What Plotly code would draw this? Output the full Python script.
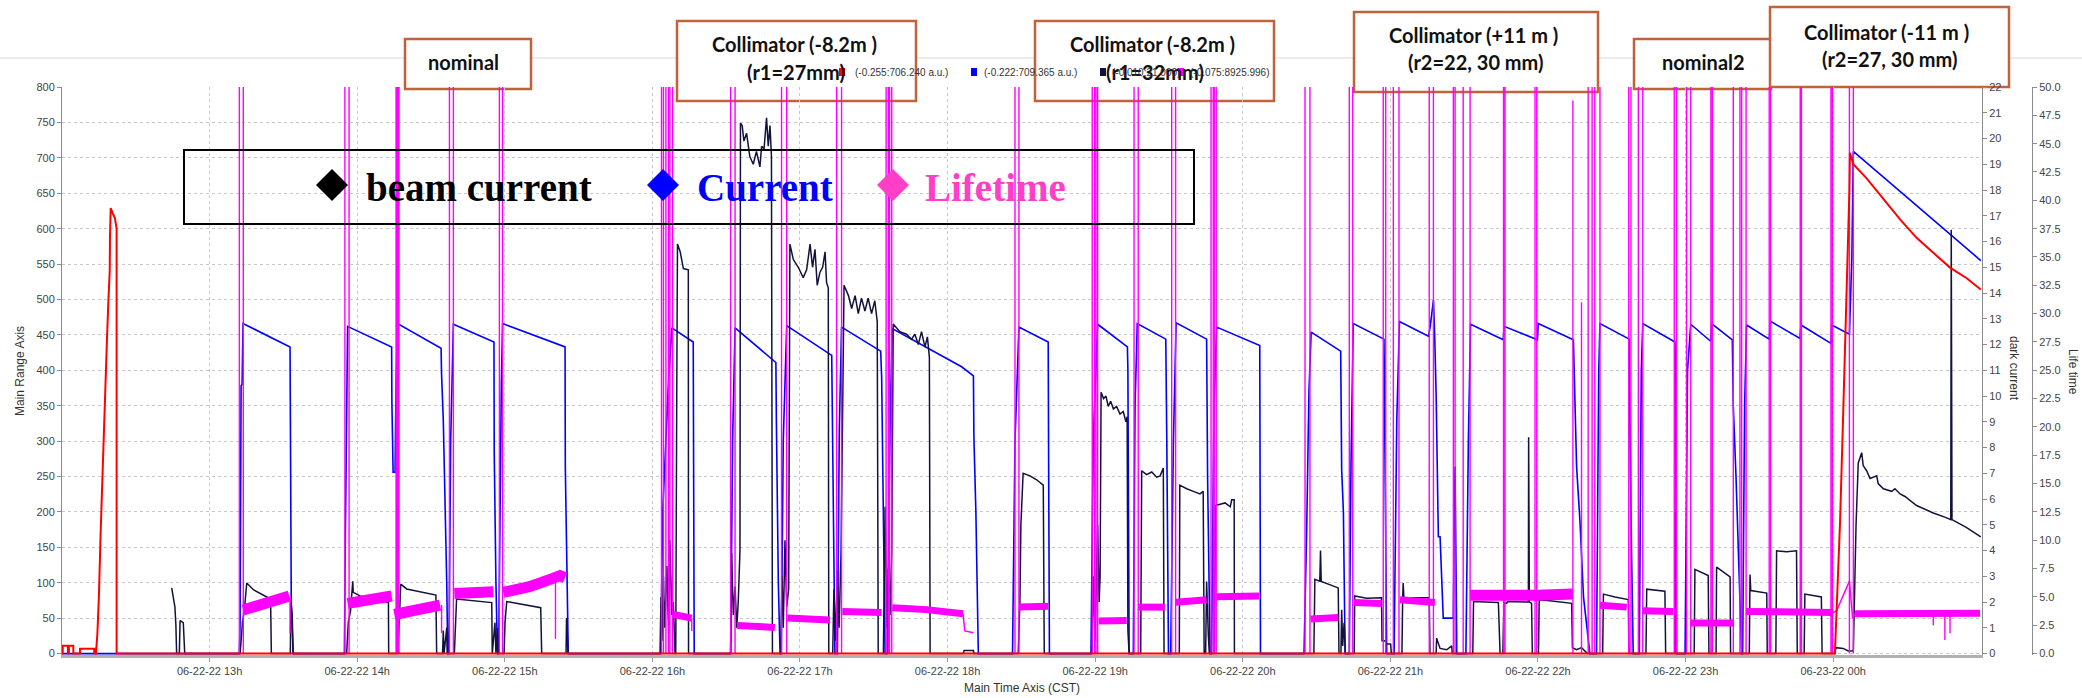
import plotly.graph_objects as go
import pandas as pd

# ---------------- DATA (time = minutes after 06-22-22 12:00 CST) ----------------
BASE = pd.Timestamp("2022-06-22 12:00:00")
X_END_MIN = 780.5

# red trace (Main Range Axis, a.u.)
red_t = [0, 0.3, 0.3, 2.4, 2.4, 2.8, 2.8, 4.6, 4.6, 7.3, 7.3, 13.1, 13.1, 13.8, 14.4, 15.0, 15.7,
         16.4, 16.8, 17.2, 17.6, 18.3, 18.8, 19.4, 19.5, 19.8, 20.6, 21.5, 22.2, 22.2,
         720.7, 722.1, 722.8, 724.1, 725.5, 726.6, 726.8, 728.2, 733.6, 740.4, 747.2, 753.9,
         760.7, 767.5, 774.3, 780.0]
red_v = [0, 0, 11, 11, 0, 0, 11, 11, 0, 0, 7, 7, 0, 0, 29, 81, 170,
         248, 300, 352, 400, 446, 493, 540, 587, 629, 622, 615, 600, 0,
         0, 110, 186, 342, 499, 655, 707, 691, 671, 642, 613, 587,
         566, 545, 530, 514]

# blue "Current" (Main Range Axis)
blue_t = [0, 72.1, 72.4, 72.8, 73.2, 73.6, 92.7, 92.8, 93.2, 94.0,
          114.8, 115.2, 115.7, 116.1, 134.0, 134.1, 134.6, 135.4, 135.8, 136.4,
          154.1, 154.3, 155.0, 155.8, 156.4, 156.8,
          157.3, 158.0, 159.1, 175.6, 175.7, 176.4, 177.0,
          177.5, 178.1, 178.6, 179.1, 204.5, 204.6, 205.1, 205.8,
          243.4, 244.2, 246.5, 247.9, 256.6, 256.8, 257.0,
          271.8, 272.6, 273.6, 290.2, 290.4, 291.2, 291.9,
          292.4, 293.2, 294.6, 312.9, 313.3, 314.2,
          315.2, 316.0, 316.9, 332.8, 333.2, 333.9, 334.6,
          335.5, 336.6, 337.5, 365.7, 370.5, 370.7, 371.5, 372.5,
          386.4, 387.4, 389.0, 400.9, 401.1, 401.4,
          418.3, 419.2, 421.0, 433.1, 433.3, 433.8,
          435.5, 436.2, 437.1, 448.7, 449.1, 449.8,
          450.7, 451.8, 452.9, 465.3, 465.7, 466.7,
          467.3, 468.3, 469.4, 486.9, 487.2,
          504.9, 506.0, 506.9, 507.8, 519.8, 520.2, 520.9, 521.6,
          523.3, 524.0, 524.9, 537.4, 537.8, 538.5,
          541.5, 542.6, 543.7, 555.5, 556.2, 557.5, 558.0, 558.6, 559.5, 560.2, 561.5, 565.6,
          566.0, 566.3, 567.0,
          570.7, 571.7, 572.6, 585.9, 586.2, 599.8, 600.1,
          614.4, 614.7, 615.7, 617.1, 618.5, 621.1, 623.8, 624.7, 625.2,
          637.1, 637.3, 638.0, 638.7,
          641.2, 642.0, 642.6, 655.7, 655.9, 656.4,
          659.8, 660.8, 662.1, 670.2, 670.6, 679.0, 679.4, 680.5, 682.8,
          683.2, 684.0, 684.8, 694.0, 694.6, 706.5, 706.9, 719.1, 719.4, 726.6, 727.1, 727.6,
          728.2, 780.0]
blue_v = [0, 0, 45, 378, 380, 466, 433, 285, 70, 0,
          0, 170, 370, 462, 433, 356, 256, 256, 380, 466,
          431, 394, 330, 220, 100, 0,
          0, 300, 465, 440, 285, 100, 0,
          0, 250, 380, 466, 433, 264, 130, 0,
          0, 200, 380, 460, 440, 269, 0,
          0, 300, 460, 411, 330, 100, 0,
          0, 300, 463, 421, 300, 0,
          0, 320, 461, 427, 390, 200, 0,
          0, 320, 459, 405, 392, 305, 200, 0,
          0, 300, 461, 440, 250, 0,
          0, 300, 465, 433, 400, 0,
          0, 350, 466, 444, 305, 0,
          0, 300, 467, 444, 250, 0,
          0, 350, 461, 435, 0,
          0, 180, 370, 454, 427, 260, 200, 0,
          0, 270, 466, 444, 300, 0,
          0, 330, 469, 448, 462, 499, 450, 366, 165, 165, 50, 50,
          200, 264, 0,
          0, 300, 465, 443, 462, 443, 466,
          443, 390, 264, 185, 80, 0, 0, 400, 466,
          444, 340, 150, 0,
          0, 400, 466, 440, 400, 0,
          0, 400, 465, 441, 466, 443, 350, 250, 0,
          0, 350, 464, 444, 469, 445, 464, 438, 464, 451, 500, 560,
          709, 555]

# navy "beam current" (dark current axis)
beam_t = [44.6, 45.9, 46.3, 46.6, 47.7, 48.0, 49.3, 49.9,
          72.4, 73.4, 74.1, 75.1, 77.8, 84.8, 85.1,
          92.8, 93.1, 93.6, 93.9,
          115.7, 116.4, 117.3, 118.2, 118.4, 121.1, 132.7, 132.8,
          136.4, 137.1, 137.7, 140.1, 152.0, 152.3,
          154.7, 155.0, 155.3, 156.4, 156.6,
          159.5, 159.9, 160.4, 174.7, 174.9,
          176.0, 176.4, 177.0, 177.2,
          179.7, 180.1, 180.8, 194.6, 195.0,
          204.9, 205.1, 205.7,
          243.1, 243.5, 243.9, 244.5, 245.0, 245.9, 246.6, 247.1, 247.9, 248.5, 249.2,
          249.5, 249.9, 250.2, 251.3, 252.6, 254.6, 254.7,
          271.8, 272.2, 272.9, 273.6, 274.3, 274.9, 275.6, 275.7, 275.8, 276.5, 277.2, 278.3,
          279.6, 281.0, 282.3, 283.7, 284.4, 285.4, 286.4, 287.1, 287.8, 288.4, 288.8,
          292.2, 292.7, 293.2, 293.9, 294.6, 295.4, 295.9, 297.3, 299.3, 301.3, 302.7, 304.1,
          305.1, 306.1, 307.0, 308.1, 309.2, 310.2, 310.8, 311.5, 311.7,
          313.3, 313.8, 314.4, 315.2, 315.9, 316.7, 317.9, 319.7, 321.0, 322.4, 323.7, 325.0,
          326.4, 327.7, 329.1, 330.4, 331.4, 331.8,
          333.9, 334.6, 335.3, 335.9, 336.6, 337.3, 337.9, 340.6, 343.3, 345.3, 346.7, 348.1,
          349.4, 350.8, 351.8, 352.6, 352.9,
          366.4, 366.7, 370.5, 370.7,
          388.7, 389.4, 389.8, 390.7, 393.5, 396.2, 398.9, 399.0, 399.3,
          418.6, 419.2, 419.9, 421.0, 421.6, 422.0, 422.4, 423.4, 424.4, 425.3, 426.3, 427.4,
          428.7, 430.1, 431.4, 432.5, 433.0, 433.3, 433.8,
          438.5, 438.9, 440.9, 443.0, 445.0, 446.4, 447.7, 448.0,
          454.2, 454.4, 457.2, 459.9, 462.6, 463.9, 464.3,
          464.9, 465.3, 466.0, 466.4,
          468.5, 468.8, 470.8, 472.8, 474.9, 475.5, 476.5, 476.6,
          508.9, 509.3, 511.3, 511.6, 511.9, 518.8, 519.1,
          519.9, 520.2, 520.6, 521.2, 521.7,
          525.3, 525.5, 530.3, 536.4, 536.6, 537.7, 538.5, 540.1, 540.4,
          544.7, 545.0, 545.2, 545.5, 555.8, 556.1,
          558.6, 558.8, 560.2, 562.9, 564.9, 565.2,
          573.5, 573.8, 583.9, 584.6,
          585.7, 586.2, 587.3, 587.6, 596.1, 596.2, 596.5, 597.4, 597.7,
          600.2, 600.5, 604.8, 613.7, 614.0, 615.7, 617.7, 619.1, 620.1,
          626.3, 626.6, 631.3, 636.7, 637.0,
          643.9, 644.2, 651.6, 651.9,
          655.6, 655.8, 656.2,
          663.5, 663.8, 669.2, 669.5,
          672.4, 672.6, 678.1, 678.3,
          685.9, 686.2, 686.5, 693.0, 693.2,
          696.7, 697.0, 701.1, 705.1, 705.4,
          708.2, 708.5, 715.2, 715.5,
          720.7, 721.1, 724.1, 726.1, 728.2, 728.6, 729.3, 730.2, 731.6, 732.2, 733.6, 735.0,
          737.7, 738.3, 740.4, 743.8, 745.1, 747.2, 749.2, 753.9, 760.7, 765.4, 767.8, 768.0,
          768.3, 774.1, 780.0]
beam_v = [2.55, 1.81, 1.09, 0, 0, 1.28, 1.2, 0,
          0, 1.23, 1.66, 2.74, 2.48, 2.12, 0,
          0, 2.0, 1.5, 0,
          0, 1.23, 1.66, 2.81, 2.38, 2.24, 1.98, 0,
          0, 1.23, 2.70, 2.51, 2.27, 0,
          0, 0.9, 0, 1.0, 0,
          0, 1.23, 2.12, 1.98, 0,
          1.2, 0, 1.0, 0,
          0, 1.23, 2.02, 1.78, 0,
          0, 1.38, 0,
          0, 2.2, 0.5, 3.0, 1.0, 3.4, 0.8, 4.4, 1.5, 2.0, 0,
          0, 9.98, 15.9, 15.6, 14.95, 14.9, 0,
          0, 3.9, 1.5, 2.6, 1.0, 2.0, 4.0, 12.0, 20.6, 20.5, 19.9, 20.2,
          19.3, 19.0, 19.5, 18.9, 19.7, 19.6, 20.8, 19.7, 20.5, 19.3, 0,
          0, 3.0, 1.0, 4.4, 1.8, 2.5, 15.9, 15.3, 15.0, 14.6, 14.9, 15.9,
          15.0, 15.7, 14.3, 14.8, 15.0, 15.6, 14.4, 14.2, 0,
          0, 2.5, 0.5, 3.2, 1.0, 4.0, 14.3, 13.9, 13.4, 13.9, 13.2, 13.8,
          13.3, 13.8, 13.2, 13.7, 12.9, 0,
          0, 5.7, 1.0, 3.3, 1.5, 4.0, 12.8, 12.5, 12.4, 12.2, 12.4, 12.0,
          12.5, 11.9, 12.3, 11.5, 0,
          0, 0.12, 0.12, 0,
          0, 2.0, 5.0, 7.0, 6.9, 6.75, 6.54, 2.5, 0,
          0, 3.0, 0.5, 5.0, 2.0, 3.0, 10.15, 9.9, 10.0, 9.6, 9.8, 9.5,
          9.6, 9.3, 9.4, 9.0, 9.2, 0.9, 0,
          0, 7.1, 6.95, 7.05, 6.85, 6.9, 7.2, 0,
          0, 6.54, 6.4, 6.3, 6.2, 6.3, 0,
          0, 2.8, 0.7, 0,
          0, 5.75, 5.8, 5.85, 5.7, 5.97, 5.97, 0,
          0, 2.88, 2.81, 4.0, 2.8, 2.55, 0,
          0, 1.7, 0.3, 1.2, 0,
          0, 2.24, 2.15, 2.17, 0.5, 0.5, 0.37, 0.37, 0,
          0, 2.17, 2.74, 2.17, 2.17, 0,
          0, 0.6, 0.2, 0.15, 0.3, 0,
          0, 2.02, 1.98, 0,
          0, 1.95, 1.95, 2.02, 2.0, 8.4, 2.0, 1.95, 0,
          0, 2.09, 2.05, 1.95, 0.23, 0.15, 0.23, 0.1, 0,
          0, 2.31, 2.2, 2.1, 0,
          0, 2.5, 2.42, 0,
          0, 5.5, 0,
          0, 3.27, 3.03, 0,
          0, 3.36, 2.98, 0,
          0, 3.07, 2.45, 2.35, 0,
          0, 3.99, 3.95, 3.99, 0,
          0, 2.31, 2.2, 0,
          0, 0.23, 0.2, 0.1, 0.1, 2.0, 5.0, 7.4, 7.8, 7.3, 7.1, 6.8,
          6.9, 6.6, 6.4, 6.3, 6.4, 6.2, 6.1, 5.75, 5.46, 5.3, 5.2, 16.46,
          5.2, 4.9, 4.53]

# magenta "Lifetime" (Life time axis): noisy plateaus
life_noisy_t = [73.7, 80.5, 86.6, 92.4, None,
                116.1, 125.0, 134.0, None,
                135.1, 153.7, None,
                159.5, 175.3, None,
                179.4, 190.0, 198.4, 202.4, 204.5, None,
                572.4, 584.6, 599.5, 614.1]
life_noisy_v = [3.85, 4.27, 4.6, 5.08, None,
                4.43, 4.7, 5.08, None,
                3.45, 4.27, None,
                5.3, 5.45, None,
                5.41, 5.9, 6.55, 6.88, 6.7, None,
                5.15, 5.25, 5.15, 5.25]
life_t = [248.5, 256.0, None, 274.5, 289.8, None, 294.9, 312.2, None, 317.2, 333.2, None,
          337.5, 351.4, 366.3, None, 389.0, 400.9, None, 421.4, 432.8, None,
          437.5, 448.4, None, 452.8, 465.3, None, 469.4, 486.7, None, 507.6, 518.8, None,
          525.2, 536.4, None, 543.9, 558.1, None, 625.2, 636.1, None, 642.6, 655.0, None,
          662.1, 679.4, None, 684.6, 720.0, None, 728.9, 779.7]
life_v = [3.45, 3.13, None, 2.48, 2.31, None, 3.13, 2.97, None, 3.72, 3.62, None,
          4.04, 3.88, 3.52, None, 4.1, 4.17, None, 2.87, 2.93, None,
          4.1, 4.1, None, 4.53, 4.76, None, 5.02, 5.08, None, 3.06, 3.19, None,
          4.5, 4.43, None, 4.76, 4.5, None, 4.27, 4.1, None, 3.78, 3.72, None,
          2.7, 2.7, None, 3.72, 3.62, None, 3.52, 3.55]
# thin magenta excursions: ramp before 00h and short drops
life_thin_t = [366.3, 367.0, 370.5, None, 720.0, 721.4, 726.6, 727.9, 728.9]
life_thin_v = [3.52, 2.0, 1.83, None, 3.62, 3.78, 6.39, 3.13, 3.52]
life_dip_t = [92.7, 154.3, 200.6, 256.0, 760.7, 765.4, 767.5]
life_dip_low = [1.8, 1.8, 1.3, 2.0, 2.5, 1.2, 1.8]
life_dip_top = [5.0, 4.3, 6.7, 3.1, 3.6, 3.6, 3.6]
# off-scale lifetime spikes (value jumps to the recorded max, then back)
LIFE_MAX = 8925.996
life_spike_up = [72.1, 115.0, 135.8, 136.5, 157.5, 177.8, 243.7, 245.5, 247.1, 271.8, 292.5,
                 314.9, 335.0, 336.4, 387.4, 418.8, 420.3, 435.8, 451.1, 467.1, 468.4, 505.3,
                 523.3, 537.1, 541.2, 555.8, 565.6, 569.6, 586.0, 598.8, 620.4, 623.1, 636.9,
                 640.8, 655.4, 660.4, 670.3, 679.4, 682.8, 694.0, 706.6, 719.1, 726.6]
life_spike_down = [73.7, 116.7, 136.3, 137.0, 159.1, 179.1, 244.5, 246.6, 248.2, 273.6, 294.6,
                   316.9, 335.9, 337.3, 389.0, 419.8, 421.0, 437.5, 452.7, 468.0, 469.2, 507.3,
                   524.7, 538.1, 543.5, 557.5, 566.3, 572.4, 586.6, 599.5, 622.0, 625.2, 637.8,
                   642.6, 656.3, 662.1, 670.9, 682.1, 684.6, 694.6, 707.1, 719.7, 728.2]
life_partial_t = [614.2, 617.7]
life_partial_v = [48.8, 31.0]

# x tick positions (hours after 06-22-22 12:00)
hour_ticks = [1, 2, 3, 4, 5, 6, 7, 8, 9, 10, 11, 12]

box_texts = [["nominal"], ["Collimator (-8.2m )", "(r1=27mm)"], ["Collimator (-8.2m )", "(r1=32mm)"],
             ["Collimator (+11 m )", "(r2=22, 30 mm)"], ["nominal2"], ["Collimator (-11 m )", "(r2=27, 30 mm)"]]
legend_items = ["beam current", "Current", "Lifetime"]
range_labels = ["(-0.255:706.240 a.u.)", "(-0.222:709.365 a.u.)", "(-0.010:21.000)", "(-0.075:8925.996)"]

# ---------------- helpers ----------------
def tt(ts):
    return [None if t is None else BASE + pd.Timedelta(minutes=t) for t in ts]

W, H = 2082, 698
ML, MT, MB = 62, 87, 43
PW, PH = W - ML, H - MT - MB
PLOT_R = 1982

def px(x):
    return (x - ML) / PW

def py(y):
    return (H - MB - y) / PH

spike_x, spike_y = [], []
for a, b in zip(life_spike_up, life_spike_down):
    spike_x += [a, a, b, b, None]
    spike_y += [0, LIFE_MAX, LIFE_MAX, 0, None]
for t, v in zip(life_partial_t, life_partial_v):
    spike_x += [t, t, None]
    spike_y += [0, v, None]
for t, lo, hi in zip(life_dip_t, life_dip_low, life_dip_top):
    spike_x += [t, t, None]
    spike_y += [hi, lo, None]

MAG = "#FF00FF"
fig = go.Figure()
fig.add_trace(go.Scatter(x=tt(blue_t), y=blue_v, mode="lines", yaxis="y",
                         line=dict(color="#0000FF", width=1.6), name="Current"))
fig.add_trace(go.Scatter(x=tt(beam_t), y=beam_v, mode="lines", yaxis="y2",
                         line=dict(color="#12123E", width=1.5), name="beam current"))
fig.add_trace(go.Scatter(x=tt(life_noisy_t), y=life_noisy_v, mode="lines", yaxis="y3",
                         line=dict(color=MAG, width=11), name="Lifetime", connectgaps=False))
fig.add_trace(go.Scatter(x=tt(life_t), y=life_v, mode="lines", yaxis="y3",
                         line=dict(color=MAG, width=7), name="Lifetime", connectgaps=False))
fig.add_trace(go.Scatter(x=tt(life_thin_t), y=life_thin_v, mode="lines", yaxis="y3",
                         line=dict(color=MAG, width=1.5), name="Lifetime", connectgaps=False))
fig.add_trace(go.Scatter(x=tt(spike_x), y=spike_y, mode="lines", yaxis="y3",
                         line=dict(color=MAG, width=1.4), name="Lifetime", connectgaps=False))
fig.add_trace(go.Scatter(x=tt(red_t), y=red_v, mode="lines", yaxis="y4",
                         line=dict(color="#FF0000", width=2), name="red"))

tickfont = dict(family="Liberation Sans, Arial, sans-serif", size=11, color="#444")
axcol = "#8c8c8c"
tickvals = [BASE + pd.Timedelta(hours=h) for h in hour_ticks]
ticktext = [v.strftime("%m-%d-%y %Hh") for v in tickvals]
fig.update_layout(
    width=W, height=H, showlegend=False,
    margin=dict(l=ML, r=0, t=MT, b=MB, pad=0, autoexpand=False),
    paper_bgcolor="white", plot_bgcolor="rgba(0,0,0,0)",
    xaxis=dict(type="date", domain=[0, (PLOT_R - ML) / PW], automargin=False,
               range=[BASE, BASE + pd.Timedelta(minutes=X_END_MIN)],
               tickvals=tickvals, ticktext=ticktext,
               showgrid=True, gridcolor="#c8c8c8", griddash="dot", gridwidth=1,
               showline=True, linecolor="#b0b0b0", linewidth=3,
               ticks="outside", ticklen=4, tickcolor="#999", tickfont=tickfont, zeroline=False),
    yaxis=dict(range=[-2, 800], dtick=50, showgrid=True, gridcolor="#c8c8c8", griddash="dot",
               showline=True, linecolor=axcol, linewidth=1, ticks="outside", ticklen=4,
               tickcolor=axcol, tickfont=tickfont, zeroline=False, automargin=False),
    yaxis2=dict(overlaying="y", side="right", anchor="x", range=[-0.055, 22], dtick=1,
                showgrid=False, showline=True, linecolor=axcol, ticks="outside", ticklen=4,
                tickcolor=axcol, tickfont=tickfont, zeroline=False, automargin=False),
    yaxis3=dict(overlaying="y", side="right", anchor="free", position=px(2032),
                range=[-0.125, 50], dtick=2.5, tickformat=".1f", showgrid=False,
                showline=True, linecolor=axcol, ticks="outside", ticklen=4, tickcolor=axcol,
                tickfont=tickfont, zeroline=False, automargin=False),
    yaxis4=dict(overlaying="y", range=[-2, 800], visible=False, automargin=False),
)

shapes = []
# faint header rule
shapes.append(dict(type="line", xref="paper", yref="paper", x0=px(0), x1=px(W), y0=py(58), y1=py(58),
                   line=dict(color="#e4e4e4", width=1.5), layer="below"))
BOXC = "#C0623A"
boxes = [(405, 531, 39, 89), (677, 916, 21, 101), (1035, 1274, 21, 101),
         (1354, 1598, 12, 92), (1634, 1771, 39, 89), (1770, 2009, 7, 87)]
for (x0, x1, y0, y1) in boxes:
    shapes.append(dict(type="rect", xref="paper", yref="paper", x0=px(x0), x1=px(x1),
                       y0=py(y1), y1=py(y0), fillcolor="white",
                       line=dict(color=BOXC, width=2.5), layer="below"))
# legend frame
shapes.append(dict(type="rect", xref="paper", yref="paper", x0=px(184), x1=px(1194),
                   y0=py(224), y1=py(150), line=dict(color="black", width=2), layer="above"))
# legend diamonds
for cx, col in [(332, "#000000"), (663, "#0000FF"), (893, "#FF3FC8")]:
    cy, r = 185, 16
    path = (f"M {px(cx - r)},{py(cy)} L {px(cx)},{py(cy - r)} L {px(cx + r)},{py(cy)} "
            f"L {px(cx)},{py(cy + r)} Z")
    shapes.append(dict(type="path", xref="paper", yref="paper", path=path,
                       fillcolor=col, line=dict(color=col, width=0), layer="above"))
# small range-legend squares
for cx, col in [(842, "#FF0000"), (974, "#0000FF"), (1103, "#12123E"), (1181, MAG)]:
    shapes.append(dict(type="rect", xref="paper", yref="paper", x0=px(cx - 3), x1=px(cx + 3),
                       y0=py(76), y1=py(68), fillcolor=col, line=dict(width=0), layer="above"))
fig.update_layout(shapes=shapes)

ann = []
boxfont = dict(family="Lato, Open Sans, sans-serif", size=20, color="#111")
text_pos = [[(463, 62)], [(794, 44), (796, 72)], [(1152, 44), (1155, 72)],
            [(1473, 35), (1476, 62)], [(1703, 62)], [(1886, 32), (1890, 59)]]
for lines, poss in zip(box_texts, text_pos):
    for txt, (x, y) in zip(lines, poss):
        ann.append(dict(text=f"<b>{txt}</b>", x=px(x), y=py(y), xref="paper", yref="paper",
                        showarrow=False, xanchor="center", yanchor="middle", font=boxfont))
legfont = "Liberation Serif, Times New Roman, serif"
for txt, x, col in zip(legend_items, [364, 695, 923], ["#000000", "#0000FF", "#FF3FC8"]):
    ann.append(dict(text=f"<b>{txt}</b>", x=px(x), y=py(187), xref="paper", yref="paper",
                    showarrow=False, xanchor="left", yanchor="middle",
                    font=dict(family=legfont, size=39, color=col)))
for txt, x in zip(range_labels, [853, 982, 1110, 1188]):
    ann.append(dict(text=txt, x=px(x), y=py(72), xref="paper", yref="paper", showarrow=False,
                    xanchor="left", yanchor="middle",
                    font=dict(family="Liberation Sans, Arial, sans-serif", size=10, color="#333")))
axtitle = dict(family="Liberation Sans, Arial, sans-serif", size=12, color="#333")
for txt, x, y, ang in [("Main Range Axis", 20, 371, -90), ("Main Time Axis (CST)", 1022, 688, 0),
                       ("dark current", 2014, 368, 90), ("Life time", 2073, 372, 90)]:
    ann.append(dict(text=txt, x=px(x), y=py(y), xref="paper", yref="paper", showarrow=False,
                    textangle=ang, xanchor="center", yanchor="middle", font=axtitle))
fig.update_layout(annotations=ann)

fig.write_html("out.html")
